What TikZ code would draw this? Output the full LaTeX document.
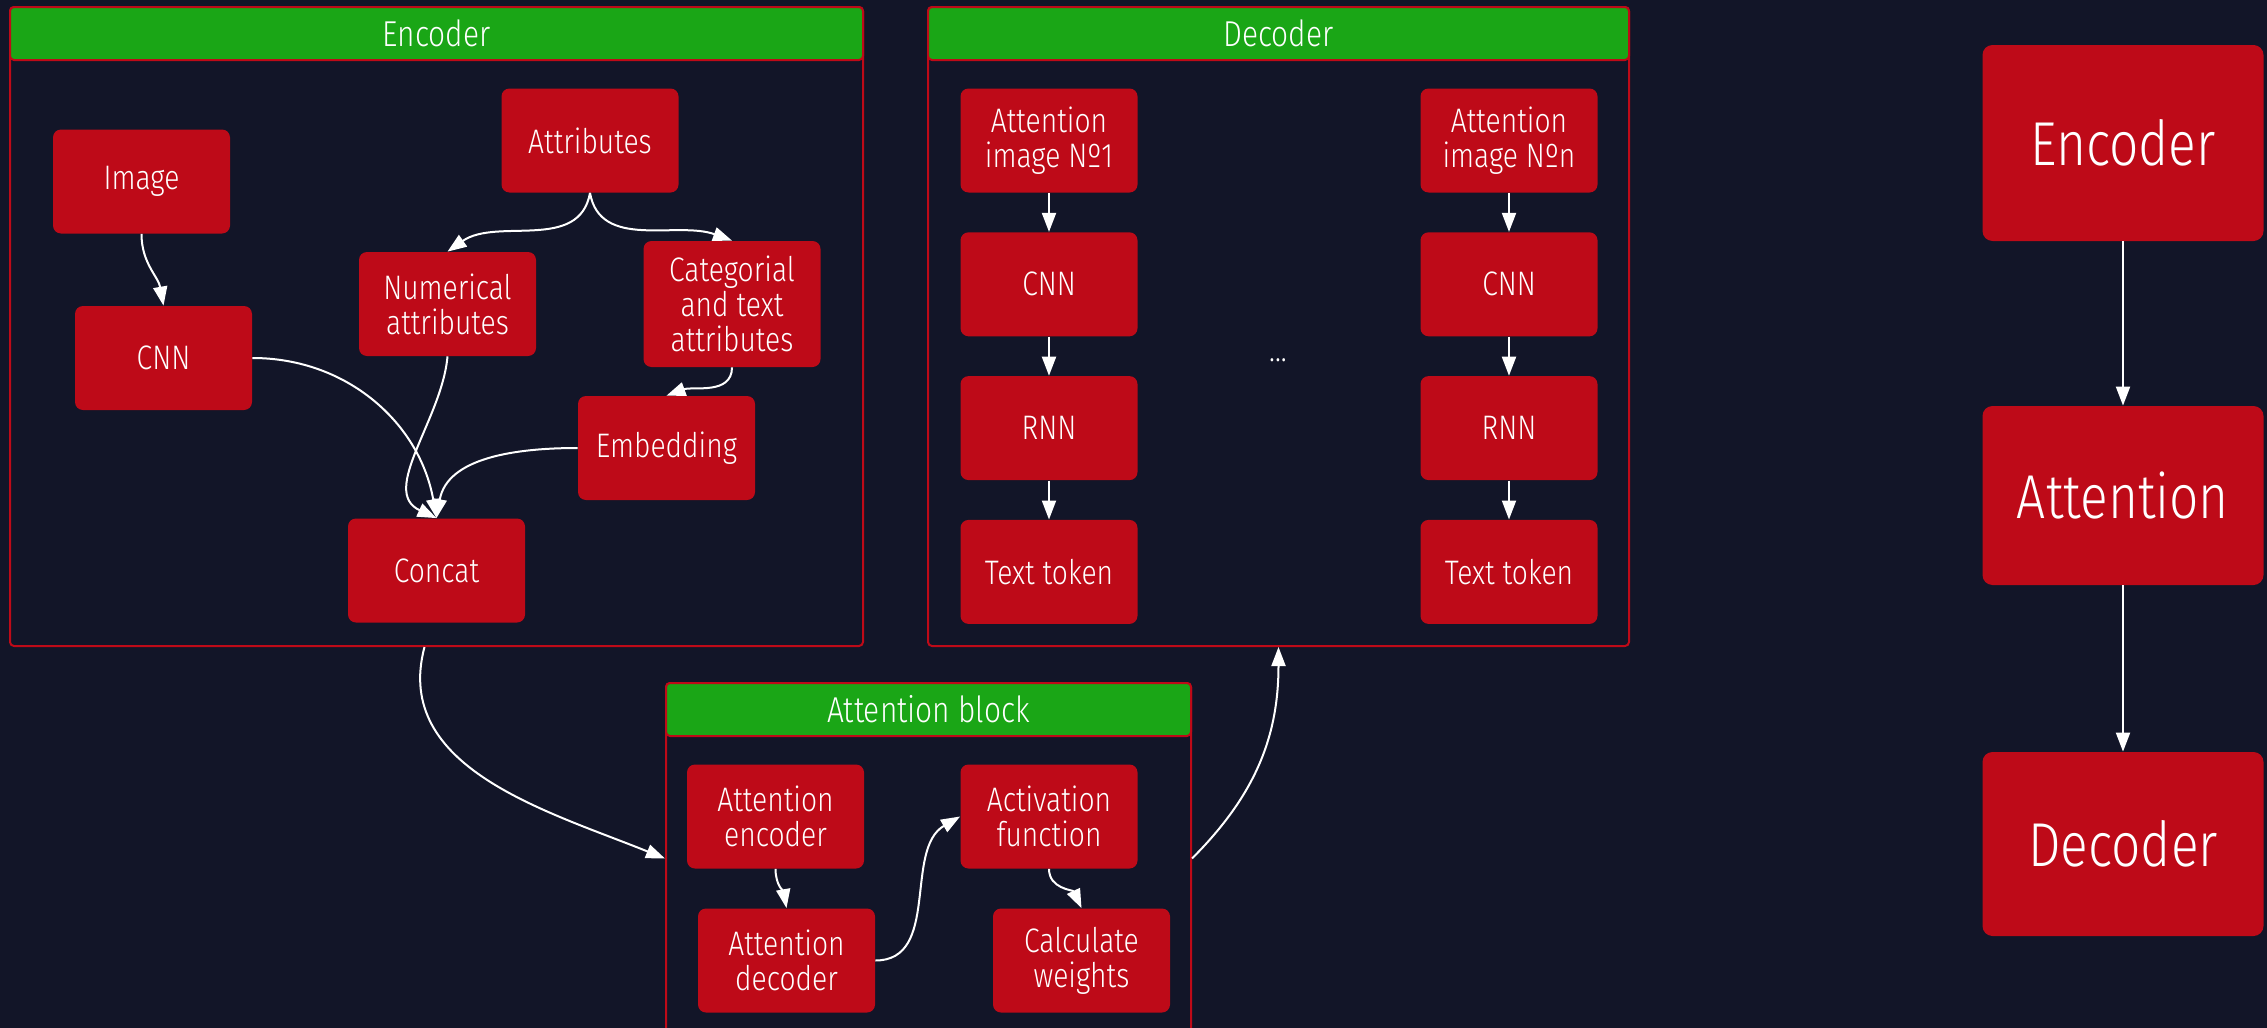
\documentclass[tikz,border=0pt]{standalone}
\usepackage{fontspec}
\setmainfont{Fira Sans Light}[FakeStretch=0.83]
\usetikzlibrary{arrows.meta, positioning}
\definecolor{navy}{RGB}{18,21,40}
\definecolor{boxred}{RGB}{190,10,24}
\definecolor{headgreen}{RGB}{26,166,22}

\begin{document}
\begin{tikzpicture}[x=0.5pt, y=-0.5pt,
	block/.style={rectangle, rounded corners=4pt, fill=boxred, text=white, align=center, minimum width=88.5pt, minimum height=52pt, inner sep=2pt, font=\fontsize{17}{17.5}\selectfont},
	bigblock/.style={block, rounded corners=5pt, minimum width=140.5pt, font=\fontsize{31}{33}\selectfont},
	panel/.style={rectangle, rounded corners=2pt, draw=boxred, line width=1pt},
	panelhead/.style={panel, fill=headgreen, text=white, minimum height=26.5pt, inner sep=0pt, font=\fontsize{18}{20}\selectfont},
	arr/.style={white, line width=1pt, -{Triangle[length=9.5pt,width=7pt]}}]
		\useasboundingbox (0,0) rectangle (2267,1028);
		\fill[navy] (0,0) rectangle (2267,1028);
		
		%----------------------------------------------------------------
		\node(encoder) [panel, minimum width=426.5pt, minimum height=319.5pt] at (436.5,326.5) {};
		\node(enchead) [panelhead, minimum width=426.5pt, anchor=north] at (encoder.north) {Encoder};
		
		\node(image) [block] at (141.5,181.5) {Image};
		\node(cnne) [block] at (163.5,358) {CNN};
		\node(attributes) [block] at (590,140.5) {Attributes};
		\node(numerical) [block] at (447.5,304) {Numerical\\attributes};
		\node(categorial) [block, minimum height=63pt] at (732,304) {Categorial\\and text\\attributes};
		\node(embedding) [block] at (666.5,448) {Embedding};
		\node(concat) [block] at (436.5,570.5) {Concat};
		
		\draw[arr] (image.south) to[out=-90,in=100] (cnne.north);
		\draw[arr] (attributes.south) to[out=-100,in=35] (numerical.north);
		\draw[arr] (attributes.south) to[out=-80,in=160] (categorial.north);
		\draw[arr] (categorial.south) to[out=-90,in=20] (embedding.north);
		\draw[arr] (cnne.east) to[out=0,in=100] (concat.north);
		\draw[arr] (numerical.south) to[out=-95,in=155] (concat.north);
		\draw[arr] (embedding.west) to[out=180,in=80] (concat.north);
		
		%----------------------------------------------------------------
		\node(decoder) [panel, minimum width=350.5pt, minimum height=319.5pt] at (1278.5,326.5) {};
		\node(dechead) [panelhead, minimum width=350.5pt, anchor=north] at (decoder.north) {Decoder};
		
		\node(attimgone) [block] at (1049,140.5) {Attention\\image Nº1};
		\node(cnnone) [block, below=19.5pt of attimgone] {CNN};
		\node(rnnone) [block, below=19.5pt of cnnone] {RNN};
		\node(tokenone) [block, below=19.5pt of rnnone] {Text token};
		
		\node(attimgn) [block] at (1509,140.5) {Attention\\image Nºn};
		\node(cnnn) [block, below=19.5pt of attimgn] {CNN};
		\node(rnnn) [block, below=19.5pt of cnnn] {RNN};
		\node(tokenn) [block, below=19.5pt of rnnn] {Text token};
		
		\node(dots) [text=white, font=\fontsize{17}{18}\selectfont] at (1278,360) {...};
		
		\draw[arr] (attimgone) -- (cnnone);
		\draw[arr] (cnnone) -- (rnnone);
		\draw[arr] (rnnone) -- (tokenone);
		\draw[arr] (attimgn) -- (cnnn);
		\draw[arr] (cnnn) -- (rnnn);
		\draw[arr] (rnnn) -- (tokenn);
		
		%----------------------------------------------------------------
		\node(attention) [panel, minimum width=262.5pt, minimum height=175.5pt] at (928.5,858.5) {};
		\node(atthead) [panelhead, minimum width=262.5pt, anchor=north] at (attention.north) {Attention block};
		
		\node(attenc) [block] at (775.5,816.5) {Attention\\encoder};
		\node(attdec) [block] at (786.5,960.5) {Attention\\decoder};
		\node(activation) [block] at (1049,816.5) {Activation\\function};
		\node(weights) [block] at (1081.5,960.5) {Calculate\\weights};
		
		\draw[arr] (attenc.south) to[out=-90,in=100] (attdec.north);
		\draw[arr] (attdec.east) to[out=0,in=210] (activation.west);
		\draw[arr] (activation.south) to[out=-90,in=115] (weights.north);
		
		\draw[arr] ([xshift=-6pt]encoder.south) to[out=-105,in=158] (attention.west);
		\draw[arr] (attention.east) to[out=45,in=-90] (decoder.south);
		
		%----------------------------------------------------------------
		\node(bigenc) [bigblock, minimum height=98pt] at (2123,143) {Encoder};
		\node(bigatt) [bigblock, minimum height=89.5pt] at (2123,495.5) {Attention};
		\node(bigdec) [bigblock, minimum height=92pt] at (2123,844) {Decoder};
		
		\draw[arr] (bigenc) -- (bigatt);
		\draw[arr] (bigatt) -- (bigdec);
		
	\end{tikzpicture}
\end{document}
